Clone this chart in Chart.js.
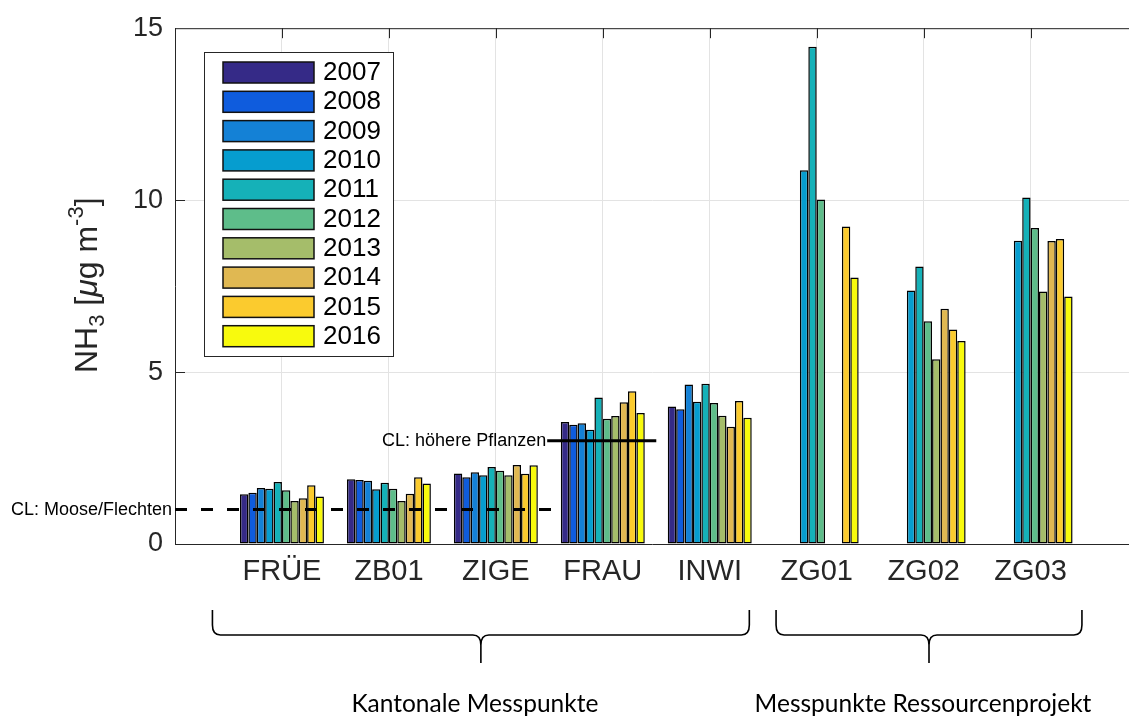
<!DOCTYPE html>
<html lang="de">
<head>
  <meta charset="UTF-8">
  <title>NH3 Messpunkte</title>
  <script src="https://cdn.jsdelivr.net/npm/chart.js"></script>
  <style>
    html, body { margin: 0; padding: 0; background: #fff; }
    #wrap { position: relative; width: 1129px; height: 717px; }
  </style>
</head>
<body>
  <div id="wrap"><canvas id="nh3Chart" width="1129" height="717"></canvas></div>

  <script>
    // categories and values (µg m-3), one list per year
    const sites = ['FRÜE', 'ZB01', 'ZIGE', 'FRAU', 'INWI', 'ZG01', 'ZG02', 'ZG03'];
    const years = ['2007', '2008', '2009', '2010', '2011', '2012', '2013', '2014', '2015', '2016'];
    const v2007 = [1.45, 1.88, 2.05, 3.55, 4.00, null, null, null];
    const v2008 = [1.49, 1.86, 1.94, 3.47, 3.92, null, null, null];
    const v2009 = [1.63, 1.84, 2.09, 3.51, 4.64, null, null, null];
    const v2010 = [1.61, 1.59, 2.00, 3.32, 4.14, 10.87, 7.37, 8.82];
    const v2011 = [1.80, 1.78, 2.24, 4.26, 4.66, 14.46, 8.07, 10.08];
    const v2012 = [1.56, 1.61, 2.13, 3.64, 4.10, 10.02, 6.48, 9.19];
    const v2013 = [1.25, 1.25, 2.00, 3.72, 3.73, null, 5.37, 7.34];
    const v2014 = [1.33, 1.46, 2.30, 4.12, 3.41, null, 6.84, 8.81];
    const v2015 = [1.71, 1.94, 2.04, 4.44, 4.16, 9.23, 6.24, 8.87];
    const v2016 = [1.38, 1.76, 2.29, 3.81, 3.67, 7.75, 5.90, 7.20];
    const yearValues = [v2007, v2008, v2009, v2010, v2011, v2012, v2013, v2014, v2015, v2016];
    const yearColors = ['#352a87', '#0f5cdd', '#1481d6', '#069dcf', '#15b1b8',
                        '#5ebd8a', '#a5bd6a', '#e0b852', '#fbcb2e', '#f8fa0d'];
    const yTicks = [0, 5, 10, 15];

    // critical levels: [label, value, x from, x to]
    const clMoose = ['CL: Moose/Flechten', 1, 0, 3.53];
    const clPflanzen = ['CL: höhere Pflanzen', 3, 3.48, 4.5];
    const groupLabels = ['Kantonale Messpunkte', 'Messpunkte Ressourcenprojekt'];

    const ink = '#262626';

    const datasets = yearValues.map((vals, i) => ({
      type: 'bar',
      label: years[i],
      data: vals.map((y, k) => ({ x: k + 1, y: y })),
      backgroundColor: yearColors[i],
      borderColor: '#000',
      borderWidth: 1.5,
      borderSkipped: false,
      categoryPercentage: 0.785,
      barPercentage: 1.0,
      order: 1
    }));

    datasets.push({
      type: 'line',
      label: clMoose[0],
      data: [{ x: clMoose[2], y: clMoose[1] }, { x: clMoose[3], y: clMoose[1] }],
      borderColor: '#000',
      borderWidth: 3,
      borderDash: [12, 14],
      pointRadius: 0,
      order: -1
    });
    datasets.push({
      type: 'line',
      label: clPflanzen[0],
      data: [{ x: clPflanzen[2], y: clPflanzen[1] }, { x: clPflanzen[3], y: clPflanzen[1] }],
      borderColor: '#000',
      borderWidth: 3,
      pointRadius: 0,
      order: -1
    });

    // frame, inward ticks, legend, axis title, CL labels and braces
    const decorations = {
      id: 'decorations',
      beforeDatasetsDraw(chart) {
        const { ctx, chartArea: a, scales: { x, y } } = chart;
        ctx.save();
        ctx.strokeStyle = ink;
        ctx.lineWidth = 1;
        ctx.beginPath();
        ctx.moveTo(a.left, a.top + 0.5);
        ctx.lineTo(a.right, a.top + 0.5);
        for (let k = 1; k <= sites.length; k++) {
          const px = Math.round(x.getPixelForValue(k)) + 0.5;
          ctx.moveTo(px, a.top);
          ctx.lineTo(px, a.top + 10);
        }
        yTicks.slice(1, -1).forEach(t => {
          const py = Math.round(y.getPixelForValue(t)) + 0.5;
          ctx.moveTo(a.left, py);
          ctx.lineTo(a.left + 10, py);
        });
        ctx.stroke();
        ctx.restore();
      },
      afterDraw(chart) {
        const { ctx, scales: { x, y } } = chart;
        ctx.save();

        // legend
        const lx = 204, ly = 52, lw = 189, lh = 304;
        ctx.fillStyle = '#fff';
        ctx.fillRect(lx, ly, lw, lh);
        ctx.strokeStyle = ink;
        ctx.lineWidth = 1;
        ctx.strokeRect(lx + 0.5, ly + 0.5, lw, lh);
        ctx.font = '26px "Liberation Sans", Arial, sans-serif';
        ctx.textBaseline = 'middle';
        ctx.textAlign = 'left';
        years.forEach((yr, i) => {
          const top = 62 + i * 29.3;
          ctx.fillStyle = yearColors[i];
          ctx.fillRect(223, top, 91, 21);
          ctx.strokeStyle = '#111';
          ctx.lineWidth = 1.5;
          ctx.strokeRect(223, top, 91, 21);
          ctx.fillStyle = '#000';
          ctx.fillText(yr, 323, top + 11);
        });

        // CL labels
        ctx.font = '18px "Liberation Sans", Arial, sans-serif';
        ctx.fillStyle = '#000';
        ctx.textAlign = 'right';
        ctx.fillText(clMoose[0], x.getPixelForValue(clMoose[2]) - 3, y.getPixelForValue(clMoose[1]));
        ctx.fillText(clPflanzen[0], x.getPixelForValue(clPflanzen[2]) - 1, y.getPixelForValue(clPflanzen[1]));

        // y axis title NH3 [µg m-3]
        ctx.translate(97, 373);
        ctx.rotate(-Math.PI / 2);
        ctx.textAlign = 'left';
        ctx.textBaseline = 'alphabetic';
        ctx.fillStyle = ink;
        const parts = [
          ['NH', 32, 0, ''], ['3', 22, 7, ''], [' [', 32, 0, ''], ['μ', 32, 0, 'italic '],
          ['g m', 32, 0, ''], ['-3', 22, -14, ''], [']', 32, 0, '']
        ];
        let cx = 0;
        parts.forEach(([t, size, dy, style]) => {
          ctx.font = style + size + 'px "Liberation Sans", Arial, sans-serif';
          ctx.fillText(t, cx, dy);
          cx += ctx.measureText(t).width;
        });
        ctx.setTransform(1, 0, 0, 1, 0, 0);

        // braces under the axis
        const braces = [[0.35, 5.37], [5.62, 8.48]];
        ctx.strokeStyle = '#000';
        ctx.lineWidth = 1.6;
        braces.forEach(([from, to], i) => {
          const x0 = x.getPixelForValue(from), x1 = x.getPixelForValue(to);
          const xm = (x0 + x1) / 2;
          const yt = 610, yh = 635, yb = 663;
          ctx.beginPath();
          ctx.moveTo(x0, yt);
          ctx.lineTo(x0, yh - 10);
          ctx.quadraticCurveTo(x0, yh, x0 + 8, yh);
          ctx.lineTo(xm - 8, yh);
          ctx.quadraticCurveTo(xm, yh, xm, yh + 10);
          ctx.lineTo(xm, yb);
          ctx.moveTo(xm, yh + 10);
          ctx.quadraticCurveTo(xm, yh, xm + 8, yh);
          ctx.lineTo(x1 - 8, yh);
          ctx.quadraticCurveTo(x1, yh, x1, yh - 10);
          ctx.lineTo(x1, yt);
          ctx.stroke();
          ctx.font = '24.5px Lato, "Open Sans", sans-serif';
          ctx.fillStyle = '#000';
          ctx.textAlign = 'center';
          ctx.textBaseline = 'alphabetic';
          ctx.fillText(groupLabels[i], xm - 6, 712);
        });
        ctx.restore();
      }
    };

    const chart = new Chart(document.getElementById('nh3Chart'), {
      type: 'bar',
      data: { datasets },
      options: {
        responsive: false,
        animation: false,
        layout: { padding: { left: 0, top: 23, right: 0, bottom: 113 } },
        plugins: { legend: { display: false }, tooltip: { enabled: false } },
        scales: {
          x: {
            type: 'linear',
            min: 0,
            max: 8.92,
            offset: false,
            afterFit: s => { s.height = 60; },
            afterBuildTicks: s => { s.ticks = [0, 1, 2, 3, 4, 5, 6, 7, 8].map(v => ({ value: v })); },
            ticks: {
              padding: 11,
              color: ink,
              font: { family: '"Liberation Sans", Arial, sans-serif', size: 29 },
              callback: v => sites[v - 1] || ''
            },
            grid: { color: '#e3e3e3', drawTicks: false, offset: false },
            border: { color: ink, width: 1 }
          },
          y: {
            min: 0,
            max: 15,
            afterFit: s => { s.width = 175; },
            afterBuildTicks: s => { s.ticks = yTicks.map(v => ({ value: v })); },
            ticks: {
              padding: 12,
              color: ink,
              font: { family: '"Liberation Sans", Arial, sans-serif', size: 27 }
            },
            grid: { color: '#e3e3e3', drawTicks: false },
            border: { color: ink, width: 1 }
          }
        }
      },
      plugins: [decorations]
    });
  </script>
</body>
</html>
